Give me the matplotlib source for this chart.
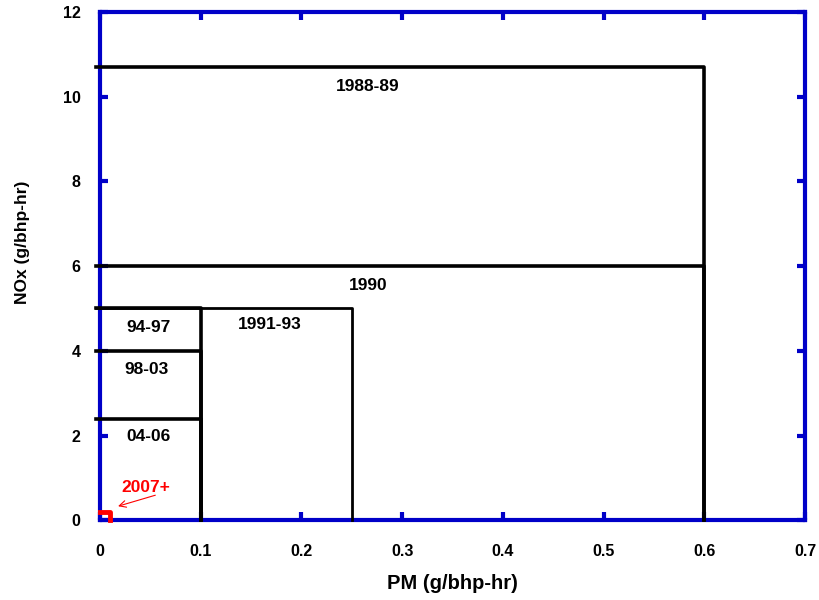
import matplotlib.pyplot as plt

plt.rcParams['font.family'] = ['Liberation Sans', 'DejaVu Sans']

# emission standard boxes: (label, PM limit, NOx limit)
labels = ['1988-89', '1990', '1991-93', '94-97', '98-03', '04-06']
pm_lim = [0.6, 0.6, 0.25, 0.1, 0.1, 0.1]
nox_lim = [10.7, 6.0, 5.0, 5.0, 4.0, 2.4]
lbl_x = [0.266, 0.266, 0.169, 0.048, 0.046, 0.048]
lbl_y = [10.25, 5.55, 4.63, 4.56, 3.57, 1.98]
lw = [2.6, 2.6, 2.0, 2.6, 2.6, 2.6]

last_label = '2007+'
last_pm = 0.01
last_nox = 0.2

fig = plt.figure(figsize=(8.19, 6), dpi=100)
ax = fig.add_axes([0.122, 0.133, 0.861, 0.847])

blue = '#0000c8'
for lab, p, n, tx, ty, w in zip(labels, pm_lim, nox_lim, lbl_x, lbl_y, lw):
    ax.plot([-0.004, p, p], [n, n, 0], color='black', lw=w, clip_on=False, zorder=3)
    ax.text(tx, ty, lab, ha='center', va='center', fontsize=12.5, fontweight='bold')

# 2007+ box, thick red
ax.plot([0, last_pm, last_pm], [last_nox, last_nox, 0], color='red', lw=3.5,
        zorder=4, clip_on=False)
ax.text(0.046, 0.78, last_label, ha='center', va='center', color='red',
        fontsize=12.5, fontweight='bold')
ax.annotate('', xy=(0.018, 0.33), xytext=(0.055, 0.59),
            arrowprops=dict(arrowstyle='->', color='red', lw=0.8,
                            shrinkA=0, shrinkB=0, mutation_scale=12))

ax.set_xlim(0, 0.7)
ax.set_ylim(0, 12)
ax.set_xticks([0, 0.1, 0.2, 0.3, 0.4, 0.5, 0.6, 0.7])
ax.set_xticklabels(['0', '0.1', '0.2', '0.3', '0.4', '0.5', '0.6', '0.7'])
ax.set_yticks(range(0, 13, 2))
for s in ax.spines.values():
    s.set_color(blue)
    s.set_linewidth(3)
ax.tick_params(direction='in', length=6, width=3, color=blue, top=True, right=True,
               labelsize=11.5)
ax.tick_params(axis='x', pad=17)
ax.tick_params(axis='y', pad=14)
for t in ax.get_xticklabels() + ax.get_yticklabels():
    t.set_fontweight('bold')
ax.set_xlabel('PM (g/bhp-hr)', fontsize=14.5, fontweight='bold', labelpad=11)
ax.set_ylabel('NOx (g/bhp-hr)', fontsize=12.5, fontweight='bold')
ax.yaxis.set_label_coords(-0.099, 0.547)

fig.savefig('out.png', dpi=100)
